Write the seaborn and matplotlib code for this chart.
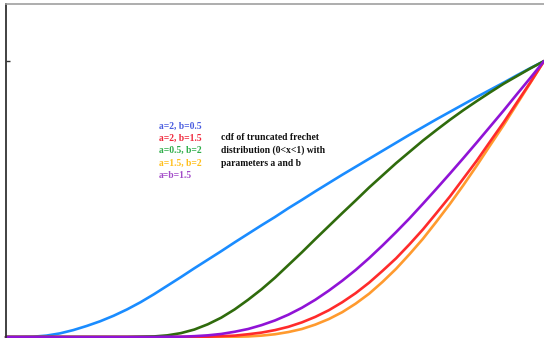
import matplotlib
matplotlib.use("Agg")
import matplotlib.pyplot as plt
import seaborn as sns
import pandas as pd

# x positions (0 < x < 1) and cdf values
x_vals = [0.000, 0.025, 0.050, 0.075, 0.100, 0.125, 0.150, 0.175, 0.200, 0.225,
          0.250, 0.275, 0.300, 0.325, 0.350, 0.375, 0.400, 0.425, 0.450, 0.475,
          0.500, 0.525, 0.550, 0.575, 0.600, 0.625, 0.650, 0.675, 0.700, 0.725,
          0.750, 0.775, 0.800, 0.825, 0.850, 0.875, 0.900, 0.925, 0.950, 0.975, 1.000]
blue_a2_b05 = [0, 0, 0.001, 0.005, 0.013, 0.025, 0.040, 0.057, 0.077, 0.100,
               0.126, 0.155, 0.186, 0.217, 0.249, 0.280, 0.311, 0.343, 0.374, 0.405,
               0.435, 0.467, 0.497, 0.528, 0.558, 0.588, 0.617, 0.646, 0.675, 0.704,
               0.733, 0.761, 0.789, 0.816, 0.843, 0.870, 0.896, 0.922, 0.949, 0.975, 1.0]
green_a05_b2 = [0, 0, 0, 0, 0, 0, 0, 0, 0, 0,
                0.001, 0.002, 0.006, 0.014, 0.027, 0.046, 0.070, 0.100, 0.135, 0.173,
                0.215, 0.261, 0.307, 0.355, 0.402, 0.449, 0.495, 0.542, 0.586, 0.630,
                0.671, 0.712, 0.750, 0.787, 0.822, 0.855, 0.887, 0.918, 0.946, 0.974, 1.0]
purple_a15_b15 = [0, 0, 0, 0, 0, 0, 0, 0, 0, 0,
                  0, 0, 0.001, 0.001, 0.003, 0.006, 0.011, 0.019, 0.029, 0.043,
                  0.060, 0.081, 0.106, 0.135, 0.168, 0.204, 0.243, 0.286, 0.332, 0.380,
                  0.430, 0.483, 0.537, 0.592, 0.648, 0.705, 0.763, 0.821, 0.881, 0.940, 1.0]
red_a2_b15 = [0, 0, 0, 0, 0, 0, 0, 0, 0, 0,
              0, 0, 0, 0, 0, 0.001, 0.003, 0.005, 0.010, 0.016,
              0.025, 0.037, 0.053, 0.073, 0.097, 0.126, 0.159, 0.197, 0.240, 0.285,
              0.336, 0.390, 0.449, 0.509, 0.574, 0.639, 0.709, 0.778, 0.851, 0.924, 1.0]
orange_a15_b2 = [0, 0, 0, 0, 0, 0, 0, 0, 0, 0,
                 0, 0, 0, 0, 0, 0, 0, 0.001, 0.002, 0.005,
                 0.010, 0.018, 0.029, 0.045, 0.065, 0.090, 0.121, 0.157, 0.200, 0.247,
                 0.300, 0.356, 0.418, 0.482, 0.550, 0.621, 0.695, 0.768, 0.845, 0.922, 1.0]

series_names = ["blue", "orange", "red", "green", "purple"]
series_vals = [blue_a2_b05, orange_a15_b2, red_a2_b15, green_a05_b2, purple_a15_b15]
line_colors = {"blue": "#1a8cff", "orange": "#ff9a2e", "red": "#ff2b2b",
               "green": "#2f6b0c", "purple": "#9013d6"}

legend_labels = ["a=2, b=0.5", "a=2, b=1.5", "a=0.5, b=2", "a=1.5, b=2", "a=b=1.5"]
legend_colors = ["#4a5de0", "#f0283c", "#2fae4a", "#ffbf1a", "#a24bc8"]
note_lines = ["cdf of truncated frechet", "distribution (0<x<1) with", "parameters a and b"]

rows = []
for name, vals in zip(series_names, series_vals):
    for xv, yv in zip(x_vals, vals):
        rows.append({"x": xv, "y": yv, "curve": name})
df = pd.DataFrame(rows)

sns.set_style("white")
W, H = 544, 338
fig = plt.figure(figsize=(W / 100, H / 100), dpi=100)
ax = fig.add_axes([6 / W, 1 / H, 538 / W, 333 / H])

sns.lineplot(data=df, x="x", y="y", hue="curve", hue_order=series_names,
             palette=line_colors, sort=False, estimator=None, linewidth=1.9,
             legend=False, ax=ax, clip_on=False)

ax.set_xlim(0, 1)
ax.set_ylim(0, 1.207)
ax.set_xticks([])
ax.set_yticks([1])
ax.set_yticklabels([])
ax.tick_params(axis="y", direction="in", length=3, width=1, color="#333333", left=True)
ax.set_xlabel("")
ax.set_ylabel("")
for s in ["right", "bottom"]:
    ax.spines[s].set_visible(False)
ax.spines["left"].set_color("#333333")
ax.spines["left"].set_linewidth(1.3)
ax.spines["top"].set_color("#a0a0a0")
ax.spines["top"].set_linewidth(1.2)

serif = ["Liberation Serif", "DejaVu Serif"]
leg_y = [126, 138.3, 150.6, 162.9, 175.2]
for lab, col, py in zip(legend_labels, legend_colors, leg_y):
    fig.text(159 / W, 1 - py / H, lab, color=col, fontsize=6.9, fontweight="bold",
             family=serif, va="center", ha="left")
note_y = [137.5, 150.5, 163]
for line, py in zip(note_lines, note_y):
    fig.text(221 / W, 1 - py / H, line, color="#111111", fontsize=6.9, fontweight="bold",
             family=serif, va="center", ha="left")

fig.savefig("out.png", dpi=100)
